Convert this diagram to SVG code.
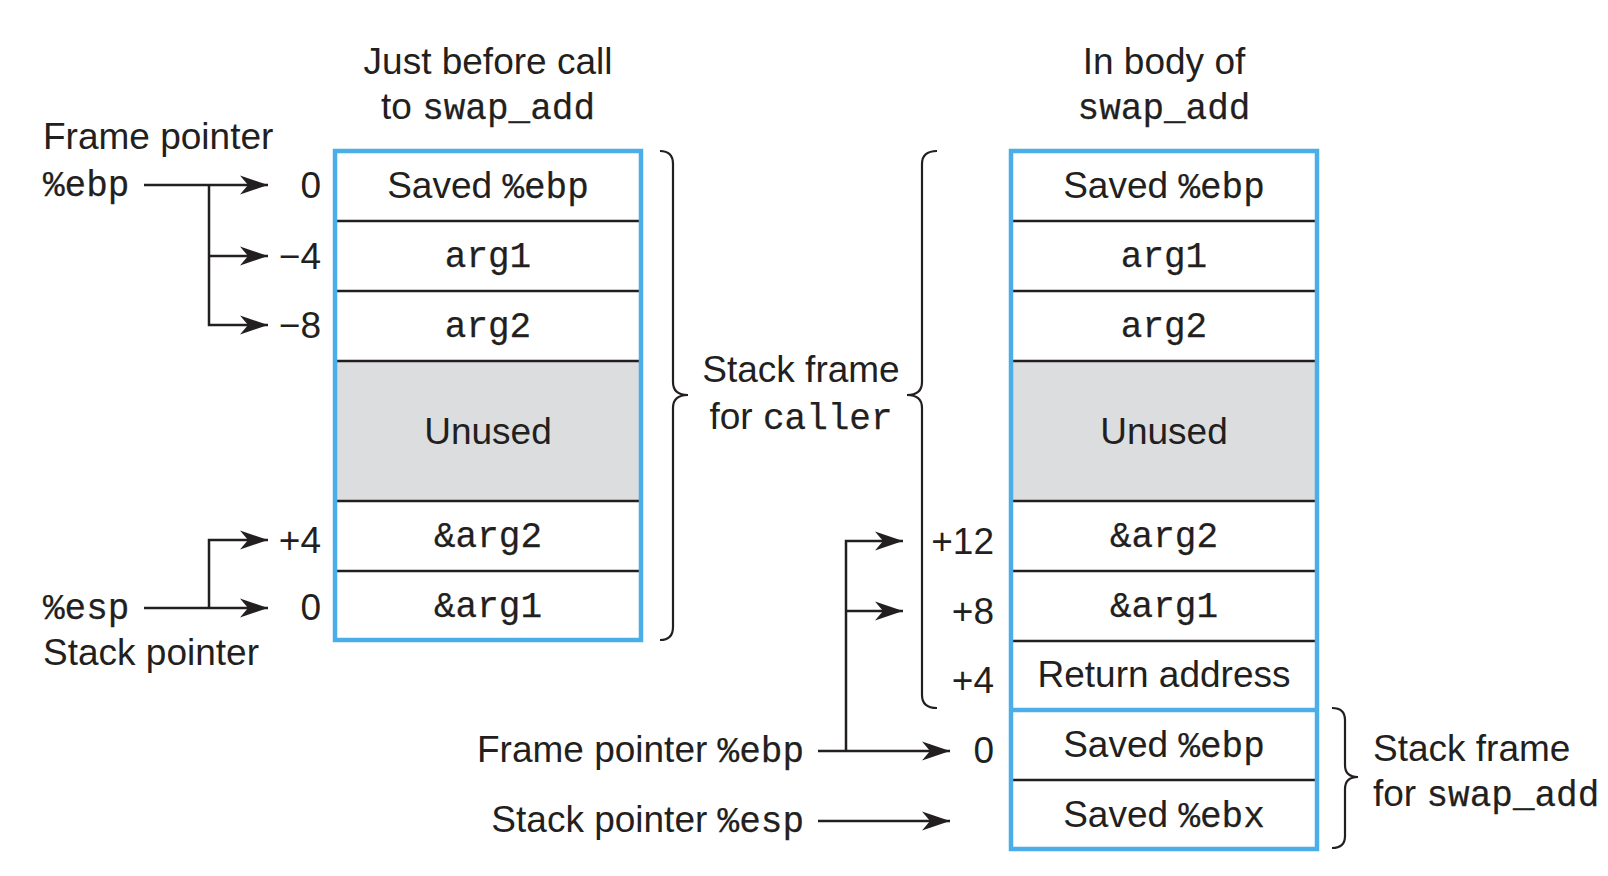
<svg xmlns="http://www.w3.org/2000/svg" width="1608" height="876" viewBox="0 0 1608 876">
<defs>
<style>
.s{font-family:"Liberation Sans",Arial,sans-serif;font-size:37px;fill:#231f20}
.m{font-family:"Liberation Mono","Courier New",monospace;font-size:36px;fill:#231f20;stroke:#231f20;stroke-width:0.25}
.c{text-anchor:middle}
.r{text-anchor:end}
.box{fill:none;stroke:#4baee8;stroke-width:4.5}
.sep{stroke:#231f20;stroke-width:2.5}
.bsep{stroke:#4baee8;stroke-width:4.5}
.un{fill:#dcdddf}
.ln{fill:none;stroke:#231f20;stroke-width:2.5}
.br{fill:none;stroke:#231f20;stroke-width:2.2}
</style>
<marker id="ah" markerUnits="userSpaceOnUse" markerWidth="32" markerHeight="22" viewBox="-30 -11 32 22" refX="0" refY="0" orient="auto">
<path d="M0 0 L-28 -9.5 L-20 0 L-28 9.5 Z" fill="#231f20"/>
</marker>
</defs>
<rect width="1608" height="876" fill="#ffffff"/>

<g id="title-left">
<text class="s c" x="488" y="74">Just before call</text>
<text class="c" x="488" y="119"><tspan class="s">to </tspan><tspan class="m">swap_add</tspan></text>
</g>
<g id="title-right">
<text class="s c" x="1164" y="74">In body of</text>
<text class="m c" x="1164" y="119">swap_add</text>
</g>

<g id="stack-left">
<rect class="un" x="335" y="361" width="306" height="140"/>
<line class="sep" x1="335" y1="221" x2="641" y2="221"/>
<line class="sep" x1="335" y1="291" x2="641" y2="291"/>
<line class="sep" x1="335" y1="361" x2="641" y2="361"/>
<line class="sep" x1="335" y1="501" x2="641" y2="501"/>
<line class="sep" x1="335" y1="571" x2="641" y2="571"/>
<rect class="box" x="335" y="151" width="306" height="489"/>
<text class="c" x="488" y="198"><tspan class="s">Saved </tspan><tspan class="m">%ebp</tspan></text>
<text class="m c" x="488" y="267">arg1</text>
<text class="m c" x="488" y="337">arg2</text>
<text class="s c" x="488" y="444">Unused</text>
<text class="m c" x="488" y="547">&amp;arg2</text>
<text class="m c" x="488" y="617">&amp;arg1</text>
</g>

<g id="stack-right">
<rect class="un" x="1011" y="361" width="306" height="140"/>
<line class="sep" x1="1011" y1="221" x2="1317" y2="221"/>
<line class="sep" x1="1011" y1="291" x2="1317" y2="291"/>
<line class="sep" x1="1011" y1="361" x2="1317" y2="361"/>
<line class="sep" x1="1011" y1="501" x2="1317" y2="501"/>
<line class="sep" x1="1011" y1="571" x2="1317" y2="571"/>
<line class="sep" x1="1011" y1="641" x2="1317" y2="641"/>
<line class="sep" x1="1011" y1="780" x2="1317" y2="780"/>
<line class="bsep" x1="1011" y1="710" x2="1317" y2="710"/>
<rect class="box" x="1011" y="151" width="306" height="698"/>
<text class="c" x="1164" y="198"><tspan class="s">Saved </tspan><tspan class="m">%ebp</tspan></text>
<text class="m c" x="1164" y="267">arg1</text>
<text class="m c" x="1164" y="337">arg2</text>
<text class="s c" x="1164" y="444">Unused</text>
<text class="m c" x="1164" y="547">&amp;arg2</text>
<text class="m c" x="1164" y="617">&amp;arg1</text>
<text class="s c" x="1164" y="687">Return address</text>
<text class="c" x="1164" y="757"><tspan class="s">Saved </tspan><tspan class="m">%ebp</tspan></text>
<text class="c" x="1164" y="827"><tspan class="s">Saved </tspan><tspan class="m">%ebx</tspan></text>
</g>

<g id="labels-left">
<text class="s" x="43" y="149">Frame pointer</text>
<text class="m" x="43" y="196">%ebp</text>
<text class="m" x="43" y="619">%esp</text>
<text class="s" x="43" y="665">Stack pointer</text>
<text class="s r" x="321" y="198">0</text>
<text class="s r" x="321" y="269">−4</text>
<text class="s r" x="321" y="338">−8</text>
<text class="s r" x="321" y="553">+4</text>
<text class="s r" x="321" y="620">0</text>
</g>

<g id="labels-right">
<text class="s r" x="994" y="554">+12</text>
<text class="s r" x="994" y="624">+8</text>
<text class="s r" x="994" y="693">+4</text>
<text class="s r" x="994" y="763">0</text>
<text class="r" x="804" y="762"><tspan class="s">Frame pointer </tspan><tspan class="m">%ebp</tspan></text>
<text class="r" x="804" y="832"><tspan class="s">Stack pointer </tspan><tspan class="m">%esp</tspan></text>
</g>

<g id="brace-caller">
<path class="br" d="M660 151 Q673 151 673 164 L673 382 Q673 395 688 395 Q673 395 673 408 L673 627 Q673 640 660 640"/>
<path class="br" d="M937 151 Q922 151 922 164 L922 382 Q922 395 907 395 Q922 395 922 408 L922 695 Q922 708 937 708"/>
<text class="s c" x="801" y="382">Stack frame</text>
<text class="c" x="801" y="429"><tspan class="s">for </tspan><tspan class="m">caller</tspan></text>
</g>

<g id="brace-swap">
<path class="br" d="M1332 708 Q1345 708 1345 720 L1345 765 Q1345 777 1358 777 Q1345 777 1345 789 L1345 836 Q1345 848 1332 848"/>
<text class="s" x="1373" y="761">Stack frame</text>
<text x="1373" y="806"><tspan class="s">for </tspan><tspan class="m">swap_add</tspan></text>
</g>

<g id="connectors">
<path class="ln" d="M144 185 H268" marker-end="url(#ah)"/>
<path class="ln" d="M209 185 V325 H268" marker-end="url(#ah)"/>
<path class="ln" d="M209 256 H268" marker-end="url(#ah)"/>
<path class="ln" d="M144 608 H268" marker-end="url(#ah)"/>
<path class="ln" d="M209 608 V540 H268" marker-end="url(#ah)"/>
<path class="ln" d="M818 751 H950" marker-end="url(#ah)"/>
<path class="ln" d="M846 751 V541 H903" marker-end="url(#ah)"/>
<path class="ln" d="M846 611 H903" marker-end="url(#ah)"/>
<path class="ln" d="M818 821 H950" marker-end="url(#ah)"/>
</g>
</svg>
